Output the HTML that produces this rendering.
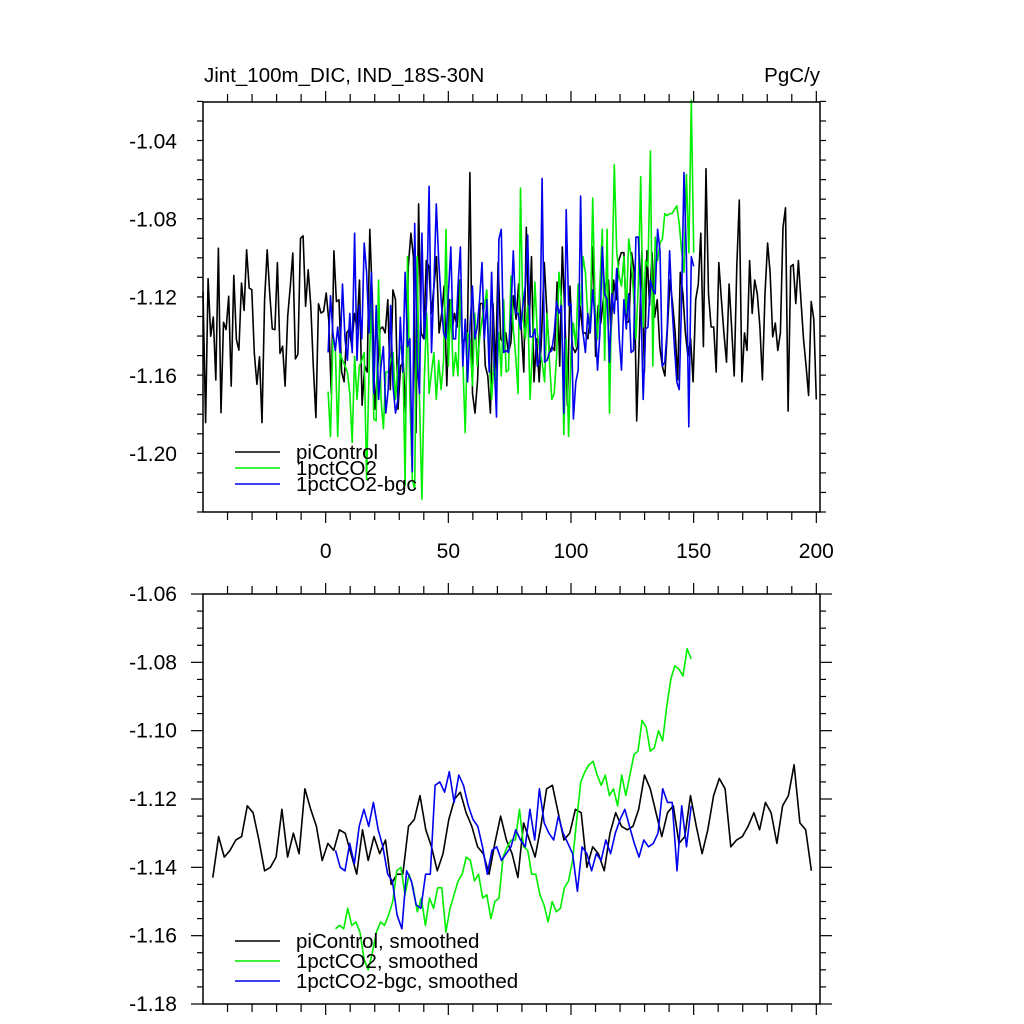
<!DOCTYPE html>
<html><head><meta charset="utf-8">
<style>
html,body{margin:0;padding:0;background:#fff;}
svg{display:block;font-family:"Liberation Sans",Arial,sans-serif;}
</style></head>
<body>
<svg id="chart" width="1024" height="1024" viewBox="0 0 1024 1024" xmlns="http://www.w3.org/2000/svg">
<rect x="0" y="0" width="1024" height="1024" fill="#fff"/>
<text x="204" y="82" font-size="20.5">Jint_100m_DIC, IND_18S-30N</text>
<text x="820" y="82" font-size="20.5" text-anchor="end">PgC/y</text>
<g id="top"></g>
<g id="bot"></g>
</svg>
<script>
const xTicks=[0,50,100,150,200];
const topYTicks=[-1.04,-1.08,-1.12,-1.16,-1.20];
const botYTicks=[-1.06,-1.08,-1.10,-1.12,-1.14,-1.16,-1.18];
const seriesNames=["piControl","1pctCO2","1pctCO2-bgc"];
const seriesColors=["#000","#00ee00","#0000ee"];
const rawStart=[-50,1,1];
const rawEnd=[200,150,150];
const smoothStart=[-46,4,4];
const smoothEnd=[198,149,149];

const piRaw=[-1.1168,-1.1839,-1.1103,-1.1397,-1.1299,-1.1621,-1.0947,-1.1788,-1.1326,-1.1363,-1.1193,-1.1652,-1.1086,-1.1414,-1.1468,-1.1125,-1.1265,-1.0955,-1.1151,-1.1159,-1.1482,-1.1643,-1.1502,-1.1839,-1.121,-1.0955,-1.1176,-1.136,-1.1363,-1.102,-1.1485,-1.1448,-1.1652,-1.1295,-1.1142,-1.0972,-1.1513,-1.149,-1.0896,-1.0884,-1.1244,-1.1057,-1.1244,-1.155,-1.1813,-1.1231,-1.1278,-1.127,-1.1176,-1.1312,
-1.169,-1.096,-1.122,-1.121,-1.158,-1.163,-1.138,-1.136,-1.145,-1.128,-1.136,-1.111,-1.175,-1.155,-1.158,-1.085,-1.121,-1.177,-1.158,-1.136,-1.135,-1.138,-1.121,-1.167,-1.116,-1.121,-1.177,-1.155,-1.153,-1.179,-1.104,-1.087,-1.099,-1.189,-1.072,-1.138,-1.141,-1.101,-1.104,-1.128,-1.114,-1.099,-1.138,-1.128,-1.114,-1.165,-1.121,-1.138,-1.128,-1.135,-1.111,-1.143,-1.141,-1.143,-1.056,-1.169,-1.179,-1.162,-1.123,-1.123,-1.155,-1.160,
-1.179,-1.123,-1.158,-1.102,-1.141,-1.143,-1.138,-1.148,-1.143,-1.119,-1.131,-1.113,-1.135,-1.158,-1.084,-1.138,-1.099,-1.163,-1.141,-1.163,-1.138,-1.102,-1.128,-1.148,-1.145,-1.147,-1.112,-1.155,-1.094,-1.128,-1.175,-1.114,-1.145,-1.148,-1.145,-1.124,-1.138,-1.138,-1.141,-1.128,-1.094,-1.150,-1.124,-1.133,-1.121,-1.113,-1.111,-1.138,-1.111,-1.121,-1.101,-1.097,-1.097,-1.133,-1.132,-1.097,-1.106,-1.183,-1.141,-1.096,-1.158,-1.096,-1.124,-1.097,-1.130,-1.121,-1.145,-1.155,-1.160,-1.135,-1.111,-1.123,-1.138,-1.162,-1.107,-1.118,-1.138,-1.150,-1.141,-1.163,-1.121,-1.113,-1.087,-1.145,-1.054,-1.118,-1.135,-1.135,-1.158,-1.102,-1.121,-1.138,-1.153,-1.113,-1.135,-1.160,-1.104,-1.070,-1.163,-1.138,-1.147,-1.101,-1.128,-1.111,-1.118,-1.135,-1.162,-1.118,-1.092,-1.107,-1.140,-1.133,-1.147,-1.138,-1.084,-1.074,-1.178,-1.104,-1.103,-1.123,-1.101,-1.121,-1.141,-1.155,-1.170,-1.122,-1.131,-1.172];

const co2Raw=[-1.168,-1.191,-1.141,-1.145,-1.191,-1.148,-1.152,-1.155,-1.158,-1.169,-1.194,-1.150,-1.172,-1.155,-1.152,-1.148,-1.213,-1.158,-1.121,-1.182,-1.183,-1.111,-1.172,-1.187,-1.158,-1.158,-1.152,-1.148,-1.172,-1.155,-1.145,-1.145,-1.216,-1.099,-1.172,-1.213,-1.218,-1.099,-1.172,-1.223,-1.162,-1.128,-1.169,-1.158,-1.148,-1.172,-1.152,-1.167,-1.152,-1.085,-1.155,-1.121,-1.160,-1.148,-1.160,-1.111,-1.152,-1.189,-1.138,-1.141,-1.165,-1.128,-1.155,-1.141,-1.131,-1.124,-1.116,-1.152,-1.172,-1.152,-1.165,-1.138,-1.160,-1.121,-1.158,-1.157,-1.109,-1.136,-1.150,
-1.169,-1.064,-1.130,-1.141,-1.124,-1.172,-1.145,-1.112,-1.138,-1.147,-1.153,-1.163,-1.128,-1.152,-1.172,-1.169,-1.150,-1.107,-1.121,-1.190,-1.141,-1.191,-1.148,-1.133,-1.145,-1.113,-1.124,-1.099,-1.107,-1.130,-1.138,-1.069,-1.124,-1.141,-1.113,-1.085,-1.152,-1.085,-1.179,-1.114,-1.052,-1.096,-1.109,-1.114,-1.099,-1.128,-1.090,-1.099,-1.118,-1.141,-1.114,-1.058,-1.135,-1.101,-1.104,-1.045,-1.155,-1.089,-1.101,-1.092,-1.090,-1.077,-1.078,-1.077,-1.077,-1.075,-1.073,-1.082,-1.096,-1.107,-1.057,-1.097,-1.019,-1.097];

const bgcRaw=[-1.148,-1.119,-1.138,-1.147,-1.135,-1.148,-1.113,-1.141,-1.152,-1.128,-1.148,-1.087,-1.152,-1.124,-1.141,-1.092,-1.107,-1.138,-1.107,-1.169,-1.124,-1.172,-1.155,-1.145,-1.179,-1.167,-1.124,-1.165,-1.179,-1.172,-1.130,-1.158,-1.107,-1.145,-1.141,-1.209,-1.082,-1.152,-1.169,-1.087,-1.141,-1.121,-1.063,-1.148,-1.114,-1.072,-1.101,-1.121,-1.138,-1.141,-1.118,-1.094,-1.141,-1.141,-1.114,-1.094,-1.155,-1.131,-1.163,-1.135,-1.114,-1.141,-1.135,-1.121,-1.102,-1.141,-1.121,-1.158,-1.107,-1.152,-1.181,-1.090,-1.085,-1.148,-1.147,-1.148,-1.128,-1.096,-1.128,
-1.128,-1.136,-1.124,-1.114,-1.088,-1.140,-1.140,-1.136,-1.155,-1.152,-1.059,-1.153,-1.152,-1.148,-1.147,-1.138,-1.122,-1.128,-1.124,-1.179,-1.075,-1.124,-1.123,-1.182,-1.163,-1.157,-1.068,-1.138,-1.148,-1.128,-1.138,-1.116,-1.131,-1.157,-1.138,-1.094,-1.118,-1.121,-1.153,-1.118,-1.128,-1.105,-1.140,-1.157,-1.121,-1.136,-1.118,-1.148,-1.147,-1.089,-1.089,-1.118,-1.172,-1.136,-1.135,-1.111,-1.116,-1.118,-1.085,-1.096,-1.155,-1.153,-1.136,-1.096,-1.124,-1.145,-1.163,-1.167,-1.121,-1.056,-1.099,-1.186,-1.099,-1.104];

const piSmooth=[-1.143,-1.131,-1.137,-1.135,-1.132,-1.131,-1.122,-1.124,-1.132,-1.141,-1.140,-1.137,-1.123,-1.137,-1.130,-1.136,-1.117,-1.123,-1.128,-1.138,-1.133,-1.135,-1.129,-1.130,-1.136,-1.142,-1.129,-1.138,-1.131,-1.136,-1.132,-1.145,-1.142,-1.142,-1.128,-1.126,-1.119,-1.129,-1.134,-1.141,-1.136,-1.126,-1.120,-1.118,-1.124,-1.128,-1.134,-1.136,-1.142,-1.133,-1.125,-1.132,-1.136,-1.143,-1.127,-1.132,-1.137,-1.128,-1.117,-1.116,-1.124,-1.132,-1.130,-1.123,-1.124,-1.140,-1.134,-1.136,-1.141,-1.130,-1.124,-1.128,-1.129,-1.128,-1.123,-1.113,-1.117,-1.124,-1.131,-1.124,-1.122,-1.133,-1.131,-1.119,-1.128,-1.136,-1.129,-1.119,-1.114,-1.117,-1.134,-1.132,-1.131,-1.128,-1.124,-1.129,-1.121,-1.124,-1.133,-1.122,-1.119,-1.110,-1.127,-1.129,-1.141];

const co2Smooth=[-1.158,-1.157,-1.158,-1.152,-1.157,-1.156,-1.159,-1.167,-1.170,-1.165,-1.159,-1.156,-1.157,-1.154,-1.150,-1.141,-1.140,-1.148,-1.142,-1.146,-1.153,-1.149,-1.157,-1.149,-1.152,-1.146,-1.146,-1.159,-1.152,-1.148,-1.144,-1.142,-1.137,-1.138,-1.144,-1.142,-1.149,-1.148,-1.155,-1.150,-1.149,-1.137,-1.134,-1.132,-1.132,-1.123,-1.134,-1.135,-1.142,-1.142,-1.148,-1.151,-1.156,-1.150,-1.153,-1.152,-1.146,-1.144,-1.138,-1.126,-1.115,-1.112,-1.110,-1.109,-1.113,-1.116,-1.113,-1.119,-1.117,-1.122,-1.113,-1.119,-1.113,-1.107,-1.106,-1.097,-1.099,-1.106,-1.105,-1.100,-1.103,-1.093,-1.085,-1.081,-1.082,-1.084,-1.076,-1.079];

const bgcSmooth=[-1.135,-1.140,-1.141,-1.133,-1.139,-1.128,-1.123,-1.128,-1.121,-1.129,-1.134,-1.142,-1.144,-1.154,-1.158,-1.141,-1.144,-1.151,-1.152,-1.142,-1.142,-1.116,-1.115,-1.118,-1.112,-1.121,-1.113,-1.116,-1.122,-1.126,-1.128,-1.134,-1.142,-1.135,-1.134,-1.138,-1.136,-1.134,-1.129,-1.132,-1.134,-1.123,-1.132,-1.117,-1.127,-1.130,-1.132,-1.125,-1.130,-1.133,-1.136,-1.147,-1.134,-1.136,-1.141,-1.136,-1.138,-1.132,-1.136,-1.130,-1.126,-1.123,-1.128,-1.133,-1.137,-1.132,-1.134,-1.133,-1.130,-1.117,-1.121,-1.121,-1.141,-1.122,-1.134,-1.122];

const NS="http://www.w3.org/2000/svg";
const XMIN=-50,XMAX=201.5,L=203,R=820;
function xs(v){return L+(v-XMIN)/(XMAX-XMIN)*(R-L);}
function mk(tag,attrs,parent){const e=document.createElementNS(NS,tag);for(const k in attrs)e.setAttribute(k,attrs[k]);parent.appendChild(e);return e;}

function panel(g,top,bottom,ymin,ymax,yTicks,yMinorStep,showXLabels,series,legendLabels,legendY,prefix){
  const ys=v=>bottom-(v-ymin)/(ymax-ymin)*(bottom-top);
  series.forEach((s,i)=>{
    const n=s.vals.length;
    const pts=s.vals.map((v,k)=>xs(s.x0+(s.x1-s.x0)*k/(n-1)).toFixed(1)+","+ys(v).toFixed(1)).join(" ");
    const pl=mk("polyline",{points:pts,fill:"none",stroke:seriesColors[i],"stroke-width":"1.6","stroke-linejoin":"round"},g);
    
    
  });
  const fr=mk("rect",{x:L,y:top,width:R-L,height:bottom-top,fill:"none",stroke:"#000","stroke-width":"1.5"},g);
  
  
  for(let v=-40;v<=200;v+=10){
    const major=(v%50===0);const len=major?11:8;const x=xs(v);
    mk("line",{x1:x,y1:bottom,x2:x,y2:bottom+len,stroke:"#000","stroke-width":"1.2"},g);
    mk("line",{x1:x,y1:top,x2:x,y2:top-len,stroke:"#000","stroke-width":"1.2"},g);
  }
  if(showXLabels){
    xTicks.forEach(v=>{
      const t=mk("text",{x:xs(v),y:bottom+46,"font-size":"21","text-anchor":"middle"},g);
      t.textContent=String(v);
      
      
    });
  }
  const nMin=Math.round((ymax-ymin)/yMinorStep);
  for(let k=0;k<=nMin;k++){
    const v=ymin+k*yMinorStep;const y=ys(v);
    const isMajor=yTicks.some(t=>Math.abs(t-v)<1e-6);const len=isMajor?12:6;
    mk("line",{x1:L,y1:y,x2:L-len,y2:y,stroke:"#000","stroke-width":"1.2"},g);
    mk("line",{x1:R,y1:y,x2:R+len,y2:y,stroke:"#000","stroke-width":"1.2"},g);
  }
  yTicks.forEach(v=>{
    const t=mk("text",{x:177,y:ys(v)+7,"font-size":"21","text-anchor":"end"},g);
    t.textContent=v.toFixed(2);
    
    
  });
  legendLabels.forEach((lab,i)=>{
    const y=legendY[i];
    const ln=mk("line",{x1:235,y1:y,x2:280,y2:y,stroke:seriesColors[i],"stroke-width":"1.6"},g);
    
    
    const t=mk("text",{x:296,y:y+7,"font-size":"20.5"},g);
    t.textContent=lab;
    
    
  });
}
const gt=document.getElementById("top");


panel(gt,102,512,-1.2296,-1.0199,topYTicks,0.01,true,
 [{vals:piRaw,x0:rawStart[0],x1:rawEnd[0]},{vals:co2Raw,x0:rawStart[1],x1:rawEnd[1]},{vals:bgcRaw,x0:rawStart[2],x1:rawEnd[2]}],
 seriesNames,[452,468,484],"raw");
const gb=document.getElementById("bot");


panel(gb,594,1004,-1.18,-1.06,botYTicks,0.005,false,
 [{vals:piSmooth,x0:smoothStart[0],x1:smoothEnd[0]},{vals:co2Smooth,x0:smoothStart[1],x1:smoothEnd[1]},{vals:bgcSmooth,x0:smoothStart[2],x1:smoothEnd[2]}],
 seriesNames.map(s=>s+", smoothed"),[941,961,981],"smooth");
</script>
</body></html>
